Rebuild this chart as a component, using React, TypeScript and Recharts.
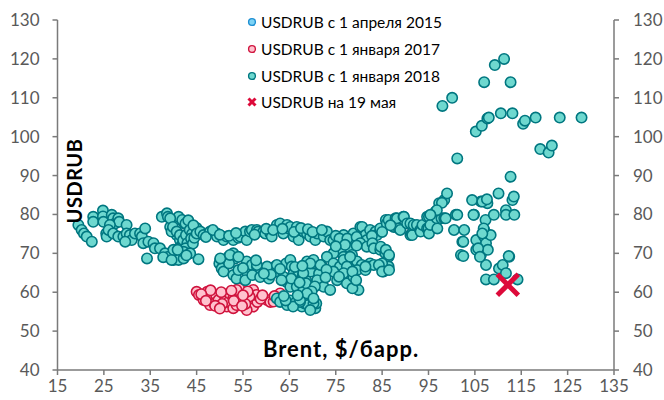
import React from "react";
import { ScatterChart, Scatter, XAxis, YAxis } from "recharts";

// Series: [Brent $/bbl, USDRUB]
const series2015: [number, number][] = [];

const series2017: [number, number][] = [
  [45, 60.1], [45.5, 59.3], [46.5, 58], [46.9, 58.9], [47.3, 60.1], [47.8, 58.4], [47.9, 56.7], [48.8, 57.1],
  [49.2, 59.3], [49.7, 58], [51.5, 56.3], [51.1, 58.9], [51.9, 57.5], [52.1, 59.7], [52.9, 58.4], [52.9, 55.9],
  [53.6, 56.7], [54.2, 59.7], [55.1, 58], [57.2, 60.6], [54.2, 61], [53.6, 60.6], [57.2, 56.3], [55.8, 55.4],
  [56.5, 58.4], [58.1, 57.5], [60.2, 58], [60.9, 57.5], [57.9, 59.3], [56.4, 58.9], [48, 60.5], [50.3, 60],
  [50.5, 57], [49, 56.5], [46, 59.5], [55.5, 57], [56, 60.2], [58.8, 58.3], [61.6, 57.6], [63, 59.7],
  [53, 57.8], [54.8, 56.5], [50, 55.8], [47, 57.8], [52.5, 60.4], [55, 59.2], [59.2, 59.2], [61.8, 59],
];

const series2018: [number, number][] = [
  // 2020 low-oil cluster
  [19.5, 77.3], [20.2, 76], [20.7, 75.1], [21.3, 74.3], [22.4, 73], [22.7, 79.4], [22.7, 78.1], [24.8, 81],
  [24.8, 79.5], [24.9, 78.1], [25.5, 75.1], [25.6, 74.3], [26.7, 79.9], [27, 79], [27.4, 77.7], [28.1, 79],
  [28.3, 78.1], [26.3, 77.3], [26, 76], [27, 75.1], [28.1, 74.3], [29.2, 74.3], [29.9, 77.3], [29.9, 75.1],
  [30.6, 74.7], [31, 73.4], [29.6, 73], [31.7, 75.1], [32.8, 75.1], [33.2, 74.3], [33.9, 76.4], [33.5, 72.6],
  [34.6, 73], [34.3, 68.7], [35.7, 72.6], [36, 71.3], [37.1, 71.3], [38.2, 70], [38.9, 69.1], [40, 68.3],
  [41.1, 68.3], [42.2, 68.7], [37.8, 69], [39.6, 68.3], [45.4, 68.5],
  // 38-46 cluster
  [37.5, 79.4], [38.6, 80.3], [38.8, 79.4], [40.4, 78.6], [41.1, 79.4], [42.2, 78.1], [42.4, 77.7], [39.3, 76.8],
  [40, 76], [40.7, 74.7], [41.4, 73.4], [41.8, 72.1], [41.1, 71.3], [40, 70.9], [39.3, 79], [41.9, 78.6],
  [42.6, 77.7], [39.6, 75.6], [39.9, 76.8], [40.7, 75.6], [41.4, 74.7], [42.1, 73.4], [42.7, 74.7], [43, 72.6],
  [43.2, 71.3], [42.6, 71.3], [42.2, 70.4], [40.9, 70.9], [43.5, 76], [44, 75], [43.8, 73.8], [44.2, 72.5],
  [43.6, 70], [42.8, 69.5], [44.5, 74], [45, 76.5], [43.2, 78.5], [44.3, 77.2],
  // upper band
  [45, 75.1], [45.8, 75.6], [46.5, 74.7], [47.9, 75.6], [49.4, 75.1], [49.4, 74.3], [50.8, 73.4], [51.5, 74.3],
  [52.9, 73.4], [54, 74], [54.4, 74.3], [55.5, 75.6], [55.8, 73.4], [56.5, 75.6], [56.9, 76], [58, 76],
  [58.3, 75.6], [59.4, 75.6], [59.8, 75.1], [60.9, 75.1], [61.2, 74.3], [62.3, 76.8], [62.3, 77.3], [63, 77.7],
  [63.7, 75.1], [64.5, 77.3], [64.9, 76.4], [65.2, 76.8], [65.9, 74.3], [66.6, 76.8], [67, 73.4], [68, 75.6],
  [68.1, 75.6], [68.8, 75.1], [69.5, 74.3], [70.6, 73.4], [71, 75.1], [72.4, 74.3], [73.1, 75.6], [73.8, 73.4],
  [74.5, 73.4], [76.7, 74.7], [78.8, 75.1], [80.3, 76.8], [80.7, 76.8], [81.4, 74.7], [81.7, 73.4], [82.4, 76],
  [83.6, 75.6], [83.9, 74.7], [84.6, 76.4], [85.8, 78.6], [86, 77.7], [86.4, 78.6], [87.5, 76.8], [87.9, 79],
  [88.2, 79], [88.6, 76.4], [88.9, 76], [89.6, 79.4], [89.7, 79.4], [90.4, 77.7], [91.1, 77.7], [91.1, 74.7],
  [91.4, 75.1], [91.5, 74.7], [91.8, 77.3], [92.5, 77.3], [93.2, 76], [93.3, 75.6], [93.7, 77.3], [94.7, 79.4],
  [94.7, 76.4], [95, 76.4], [95.1, 79.4], [95.1, 75.1], [95.4, 77.3], [96.5, 80.7], [96.8, 79], [96.9, 76.4],
  [97.3, 82.9], [97.8, 79], [98.4, 83.7], [98.4, 79], [98.7, 79], [99, 85.4], [97.9, 83], [96.8, 81.1], [95.4, 79.9],
  [47, 74.2], [48.5, 76], [50, 74.8], [52, 74.5], [53.5, 75.2], [57.5, 74.8], [60, 76.3], [61.5, 76],
  [63.5, 76.3], [66, 75.5], [67.5, 76.5], [69, 76.2], [70, 75.5], [72, 76], [75, 74.5], [75.8, 73.8],
  [77.5, 73.8], [79.5, 74.2], [82.8, 74.5], [85, 75.5], [86.8, 77.2],
  // descending branch
  [78.1, 71.3], [76, 70.9], [74.5, 70], [73.1, 69.1], [76.7, 69.1], [78.5, 69.6], [80.3, 72.6], [81.7, 71.7],
  [82.9, 72.6], [83.2, 71.3], [84.6, 70.9], [84.7, 71.7], [85.7, 70], [85.8, 70.9], [86.4, 69.1], [86.5, 69.6],
  [79.5, 72], [77, 72.2], [75, 71.8],
  // lower band
  [50.1, 68.3], [49.9, 67.4], [50.4, 66.1], [50.8, 65.3], [51.9, 69.1], [52.9, 70], [53.3, 68.7], [52, 67.4],
  [52.9, 64.4], [53.6, 63.5], [54, 65.7], [55.8, 67.9], [56, 64.8], [55.5, 63.1], [56.9, 67], [58, 66.6],
  [58.5, 65.3], [57, 64.4], [58.7, 63.9], [60.2, 65.7], [60.6, 63.5], [61.9, 66.6], [62.2, 65.3], [63.7, 64],
  [64.3, 67.4], [65.2, 68.3], [65.5, 66.6], [65.9, 64.8], [66.6, 63.1], [67, 65.3], [67.9, 64.4], [68.6, 63.1],
  [71, 62.3], [69.6, 65.3], [70.1, 67.4], [71.4, 64.8], [71.9, 67], [64.3, 62.7], [65.2, 61.4], [66.6, 61.4],
  [68, 60.5], [65.4, 63.5], [63.3, 63.1], [50.1, 68.7], [52.2, 69.6], [54, 69.1], [58, 67], [60.2, 66.6],
  [62.3, 67], [68.8, 67.9], [70.2, 68.3], [71.7, 67], [74.5, 67.4], [75.9, 66.6], [77.8, 66.6], [79.6, 67.9],
  [80.6, 67], [82.4, 67.4], [84.6, 67], [86.4, 66.6], [69.5, 67.4], [76.7, 68.3], [78.1, 69.1], [77.4, 66.6],
  [79.6, 65.7], [81.7, 66.6], [83.2, 67], [85, 67.4], [85.3, 65.3], [81.4, 65.7], [71, 63.1], [72.4, 61.4],
  [73.8, 60.6], [75.3, 63.1], [77.4, 62.3], [79.2, 61.4], [79.9, 60.6], [76.7, 64.9], [78.8, 64], [74.5, 65.3],
  [68, 64.9], [68.6, 62.3], [78.6, 65.3], [78.6, 61], [79.4, 63.1], [75.7, 64], [84.3, 67], [85, 65.3],
  [86.5, 65.7], [81.4, 66.6], [73, 65.8], [72.8, 63.8], [70.5, 61.5], [69.8, 60.2], [67.2, 62.5], [61, 64.5],
  [59.5, 64.8], [55, 66.2], [57.8, 68.2], [63, 66], [66.2, 66.5], [67.8, 66.8],
  // bottom group
  [62.3, 58.4], [63, 57.5], [64.5, 56.7], [65.2, 57.9], [66.1, 57.1], [67.7, 56.3], [68.3, 57.1], [69, 56.7],
  [70.6, 55.9], [70.8, 57.1], [67.3, 57.5], [65.8, 56.3], [64.2, 57.9], [67.3, 58], [70.2, 57.1], [69.5, 55.4],
  [68.8, 59.7], [70.2, 58.4], [66.8, 59.2], [63.8, 59],
  // 2022
  [100.9, 79.9], [100.5, 76], [102.7, 76], [102.3, 73], [102, 69.6], [104.8, 79.9], [106.3, 83.3], [107.7, 82.9],
  [107.3, 78.6], [109.1, 79.9], [111.7, 81.1], [111.7, 79.9], [113.5, 79.9], [113.1, 83.7], [105.3, 73.4], [105.3, 70.9],
  [106.3, 69.6], [107, 76], [107, 74.3], [107.4, 72.6], [107.8, 70.9], [108.4, 74.7], [107.4, 67], [107.4, 63.3],
  [109.1, 63.3], [110.2, 66.1], [111, 67], [112.4, 69.1], [111.7, 64.9], [114.2, 63.3], [101.2, 94.4], [112.7, 89.7],
  [104.4, 83.7], [106.6, 83.3], [107.6, 83.9], [110.1, 85.4], [113.4, 84.6], [101.2, 79.9], [104.7, 79.9], [106.9, 76.4],
  [106.6, 75.1], [105.7, 71.3], [106.1, 69.1], [102.5, 73], [102.5, 69.3], [112.3, 69.3], [98, 107.9], [100.1, 110],
  [105.2, 101.3], [106.5, 102.8], [107.7, 104.7], [108, 104.9], [107, 114], [109.3, 118.4], [111.3, 120], [112.7, 114],
  [110.6, 106], [113.1, 106], [115.4, 103.3], [115.8, 104.1], [118.1, 104.9], [123.3, 104.9], [128, 104.9], [119.1, 96.8],
  [120.9, 95.9], [121.6, 97.7],
];

const seriesMay19: [number, number][] = [[112.1, 61.9]];

const xTicks = [15, 25, 35, 45, 55, 65, 75, 85, 95, 105, 115, 125, 135];
const yTicks = [40, 50, 60, 70, 80, 90, 100, 110, 120, 130];

const legendLabels = [
  "USDRUB с 1 апреля 2015",
  "USDRUB с 1 января 2017",
  "USDRUB с 1 января 2018",
  "USDRUB на 19 мая",
];

const toData = (arr: [number, number][]) => arr.map(([x, y]) => ({ x, y }));

const FONT = "Lato, 'Noto Sans', sans-serif";
const C2015 = { fill: "#7DD3F5", stroke: "#1E8FD2" };
const C2017 = { fill: "#FFC2CE", stroke: "#D0143E" };
const C2018 = { fill: "#6ED8CF", stroke: "#007780" };
const CROSS = "#DD0A3A";

const circleShape = (c: { fill: string; stroke: string }) => (p: any) =>
  p.cx == null ? <g /> : <circle cx={p.cx} cy={p.cy} r={5.2} fill={c.fill} stroke={c.stroke} strokeWidth={1.6} />;

const crossShape = (p: any) => {
  if (p.cx == null) return <g />;
  const s = 10.5;
  return (
    <g stroke={CROSS} strokeWidth={5} strokeLinecap="butt">
      <line x1={p.cx - s} y1={p.cy - s} x2={p.cx + s} y2={p.cy + s} />
      <line x1={p.cx - s} y1={p.cy + s} x2={p.cx + s} y2={p.cy - s} />
    </g>
  );
};

const LegendBox = () => {
  const rows = [0, 1, 2, 3];
  const ys = [22, 49, 76, 102];
  return (
    <div style={{ position: "absolute", left: 244, top: 0, width: 240, height: 115 }}>
      <svg width={20} height={115} style={{ position: "absolute", left: 0, top: 0 }}>
        <circle cx={8} cy={ys[0]} r={3.4} fill={C2015.fill} stroke={C2015.stroke} strokeWidth={1.4} />
        <circle cx={8} cy={ys[1]} r={3.4} fill={C2017.fill} stroke={C2017.stroke} strokeWidth={1.4} />
        <circle cx={8} cy={ys[2]} r={3.4} fill={C2018.fill} stroke={C2018.stroke} strokeWidth={1.4} />
        <g stroke={CROSS} strokeWidth={3}>
          <line x1={4.5} y1={ys[3] - 3.5} x2={11.5} y2={ys[3] + 3.5} />
          <line x1={4.5} y1={ys[3] + 3.5} x2={11.5} y2={ys[3] - 3.5} />
        </g>
      </svg>
      {rows.map((i) => (
        <div
          key={i}
          style={{
            position: "absolute",
            left: 17,
            top: ys[i] - 10,
            height: 20,
            lineHeight: "20px",
            fontFamily: FONT,
            fontSize: 15.5,
            color: "#000",
            whiteSpace: "nowrap",
          }}
        >
          {legendLabels[i]}
        </div>
      ))}
    </div>
  );
};

export default function App() {
  const tickStyle = { fill: "#595959", fontSize: 17, fontFamily: FONT };
  return (
    <div style={{ position: "absolute", left: 0, top: 0, width: 664, height: 400, background: "#fff" }}>
      <ScatterChart width={664} height={400} margin={{ top: 20, right: 0, bottom: 0, left: 0 }}>
        <XAxis
          type="number"
          dataKey="x"
          domain={[15, 135]}
          ticks={xTicks}
          interval={0}
          allowDataOverflow
          height={30}
          tick={tickStyle}
          tickSize={5}
          tickMargin={5}
          stroke="#7a7a7a"
          strokeWidth={1.5}
        />
        <YAxis
          yAxisId="left"
          type="number"
          dataKey="y"
          domain={[40, 130]}
          ticks={yTicks}
          interval={0}
          allowDataOverflow
          width={57.5}
          tick={tickStyle}
          tickSize={5}
          tickMargin={13}
          stroke="#7a7a7a"
          strokeWidth={1.5}
        />
        <YAxis
          yAxisId="right"
          orientation="right"
          type="number"
          dataKey="y"
          domain={[40, 130]}
          ticks={yTicks}
          interval={0}
          allowDataOverflow
          width={50}
          tick={tickStyle}
          tickSize={5}
          tickMargin={14}
          stroke="#7a7a7a"
          strokeWidth={1.5}
        />
        <Scatter yAxisId="left" data={toData(series2015)} shape={circleShape(C2015)} isAnimationActive={false} />
        <Scatter yAxisId="left" data={toData(series2017)} shape={circleShape(C2017)} isAnimationActive={false} />
        <Scatter yAxisId="right" data={toData(series2018)} shape={circleShape(C2018)} isAnimationActive={false} />
        <Scatter yAxisId="left" data={toData(seriesMay19)} shape={crossShape} isAnimationActive={false} />
      </ScatterChart>
      <LegendBox />
      <div
        style={{
          position: "absolute",
          left: 74,
          top: 181,
          transform: "translate(-50%, -50%) rotate(-90deg)",
          fontFamily: FONT,
          fontWeight: 700,
          fontSize: 20,
          letterSpacing: 0.5,
          color: "#000",
          whiteSpace: "nowrap",
        }}
      >
        USDRUB
      </div>
      <div
        style={{
          position: "absolute",
          left: 341,
          top: 348,
          transform: "translate(-50%, -50%)",
          fontFamily: FONT,
          fontWeight: 700,
          fontSize: 22,
          letterSpacing: 1,
          color: "#000",
          whiteSpace: "nowrap",
        }}
      >
        Brent, $/барр.
      </div>
    </div>
  );
}
